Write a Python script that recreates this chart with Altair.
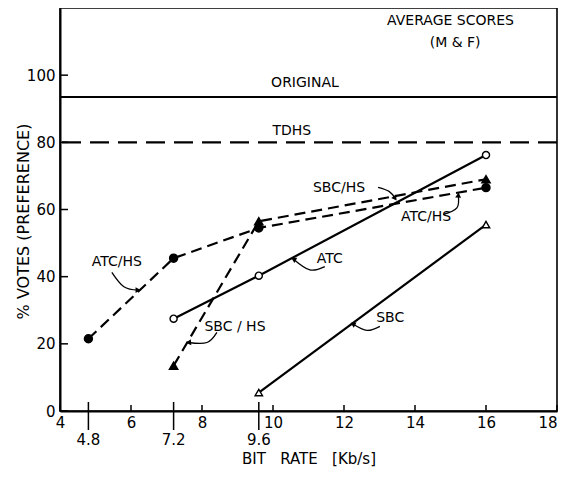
import altair as alt
import pandas as pd

# ---------------- data ----------------
atc_hs_x = [4.8, 7.2, 9.6, 16.0]
atc_hs_y = [21.5, 45.5, 54.5, 66.5]

sbc_hs_x = [7.2, 9.6, 16.0]
sbc_hs_y = [13.5, 56.5, 69.0]

atc_x = [7.2, 9.6, 16.0]
atc_y = [27.5, 40.3, 76.2]

sbc_x = [9.6, 16.0]
sbc_y = [5.5, 55.5]

original_level = [93.5]
tdhs_level = [80.0]

x_ticks = [4, 6, 8, 10, 12, 14, 16, 18]
y_ticks = [0, 20, 40, 60, 80, 100]
special_rates = [4.8, 7.2, 9.6]
special_labels = ["4.8", "7.2", "9.6"]

# text annotations (data coordinates)
note_text = ["AVERAGE SCORES", "(M & F)", "ORIGINAL", "TDHS",
             "ATC/HS", "SBC / HS", "ATC", "SBC", "SBC/HS", "ATC/HS"]
note_x = [15.0, 15.13, 10.9, 10.53, 5.6, 8.93, 11.6, 13.3, 11.86, 14.31]
note_y = [116.2, 109.7, 97.7, 83.4, 44.5, 24.9, 45.4, 27.8, 66.4, 57.9]

# curved leader arrows (three points each, data coordinates)
arrow_id = [1, 1, 1, 2, 2, 2, 3, 3, 3, 4, 4, 4, 5, 5, 5, 6, 6, 6]
arrow_ord = [0, 1, 2] * 6
arrow_x = [5.46, 5.8, 6.2, 8.42, 8.14, 7.62, 11.46, 11.04, 10.58,
           13.01, 12.65, 12.25, 12.96, 13.27, 13.44, 14.79, 15.18, 15.22]
arrow_y = [41.3, 37.0, 36.0, 23.4, 20.4, 20.4, 43.0, 42.0, 45.2,
           25.2, 24.0, 25.9, 66.6, 65.4, 63.3, 58.5, 60.5, 64.3]
head_angle = [90, 265, 298, 298, 145, 4]

# ---------------- chart ----------------
W, H = 497, 403
FONT = "DejaVu Sans"
NB = "\u00a0"

xs = alt.Scale(domain=[4, 18], nice=False, zero=False)
ys = alt.Scale(domain=[0, 120], nice=False, zero=True)

x_axis = alt.Axis(
    values=x_ticks, tickSize=0, labelPadding=4, grid=False,
    labelAlign=alt.ExprRef(expr="datum.value >= 18 ? 'right' : 'center'"),
    labelFlush=False, labelFont=FONT, labelFontSize=15, labelColor="black",
    title=f"BIT{NB}{NB}{NB}RATE{NB}{NB}{NB}[Kb/s]", titleBaseline="middle", titleY=47,
    titleFont=FONT, titleFontSize=15)
y_axis = alt.Axis(
    values=y_ticks, tickSize=0, labelPadding=5, grid=False,
    labelFont=FONT, labelFontSize=15, labelColor="black",
    title="% VOTES (PREFERENCE)", titleFont=FONT, titleFontSize=16,
    titleBaseline="middle", titleAlign="center", titleX=-37, titleY=213)

base_x = alt.X("x:Q", scale=xs, axis=x_axis)
base_y = alt.Y("y:Q", scale=ys, axis=y_axis)


def series_df(xv, yv):
    return pd.DataFrame({"x": xv, "y": yv})


# inward ticks
xtick_layer = alt.Chart(pd.DataFrame({"x": x_ticks})).mark_rule(
    color="black", strokeWidth=1.5).encode(
    x=base_x, y=alt.value(H - 6), y2=alt.value(H))
ytick_layer = alt.Chart(pd.DataFrame({"y": y_ticks})).mark_rule(
    color="black", strokeWidth=1.5).encode(
    y=base_y, x=alt.value(0), x2=alt.value(8))

# special bit-rate ticks and labels
sp_df = pd.DataFrame({"x": special_rates, "t": special_labels})
sp_rule = alt.Chart(sp_df).mark_rule(color="black", strokeWidth=1.5).encode(
    x=base_x, y=alt.value(H - 9), y2=alt.value(H + 19))
sp_text = alt.Chart(sp_df).mark_text(font=FONT, fontSize=15, color="black",
                                     baseline="middle").encode(
    x=base_x, y=alt.value(H + 29), text="t:N")

# reference levels
orig_rule = alt.Chart(pd.DataFrame({"y": original_level})).mark_rule(
    color="black", strokeWidth=2).encode(y=base_y)
tdhs_rule = alt.Chart(pd.DataFrame({"y": tdhs_level})).mark_rule(
    color="black", strokeWidth=2.2, strokeDash=[19, 9]).encode(y=base_y)


def line(xv, yv, dashed):
    kw = dict(color="black", strokeWidth=2.2)
    if dashed:
        kw["strokeDash"] = [11, 6]
    return alt.Chart(series_df(xv, yv)).mark_line(**kw).encode(x=base_x, y=base_y)


def pts(xv, yv, shape, filled, size):
    return alt.Chart(series_df(xv, yv)).mark_point(
        shape=shape, filled=True, size=size, stroke="black", strokeWidth=1.4,
        fill="black" if filled else "white", opacity=1).encode(x=base_x, y=base_y)


lines = [
    line(atc_hs_x, atc_hs_y, True),
    line(sbc_hs_x, sbc_hs_y, True),
    line(atc_x, atc_y, False),
    line(sbc_x, sbc_y, False),
]
points = [
    pts(atc_hs_x, atc_hs_y, "circle", True, 64),
    pts(sbc_hs_x, sbc_hs_y, "triangle-up", True, 70),
    pts(atc_x, atc_y, "circle", False, 50),
    pts(sbc_x, sbc_y, "triangle-up", False, 55),
]

notes = alt.Chart(pd.DataFrame({"x": note_x, "y": note_y, "t": note_text})).mark_text(
    font=FONT, fontSize=14, color="black", baseline="middle").encode(
    x=base_x, y=base_y, text="t:N")

arr_df = pd.DataFrame({"id": arrow_id, "o": arrow_ord, "x": arrow_x, "y": arrow_y})
arrows = alt.Chart(arr_df).mark_line(color="black", strokeWidth=1.3,
                                     interpolate="natural").encode(
    x=base_x, y=base_y, detail="id:N", order="o:Q")
head_df = arr_df[arr_df["o"] == 2].copy()
head_df["a"] = head_angle
heads = alt.Chart(head_df).mark_point(shape="triangle-up", filled=True,
                                      color="black", size=35, opacity=1).encode(
    x=base_x, y=base_y, angle=alt.Angle("a:Q", scale=None))

chart = alt.layer(
    *lines, orig_rule, tdhs_rule, xtick_layer, ytick_layer, sp_rule, sp_text,
    *points, notes, arrows, heads
).properties(
    width=W, height=H,
    autosize=alt.AutoSizeParams(type="none"),
    padding={"left": 52, "top": 0, "right": 2, "bottom": 58},
).configure_view(
    stroke="black", strokeWidth=1.6
).configure_axis(
    domainColor="black", domainWidth=2,
    labelColor="black", labelFont=FONT, labelFontSize=15,
    titleFont=FONT, titleFontWeight="normal", titleColor="black",
)

chart.save("out.html", embed_options={"renderer": "svg", "actions": False})
